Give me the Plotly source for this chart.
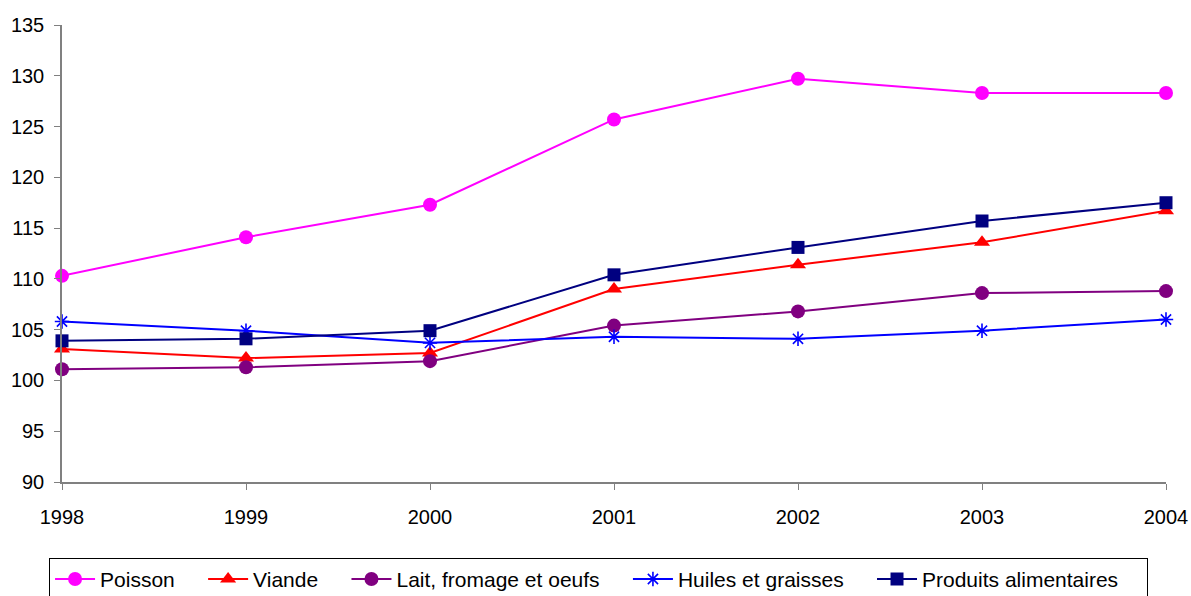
import plotly.graph_objects as go

years = [1998, 1999, 2000, 2001, 2002, 2003, 2004]

poisson = [110.3, 114.1, 117.3, 125.7, 129.7, 128.3, 128.3]
viande = [103.1, 102.2, 102.7, 109.0, 111.4, 113.6, 116.7]
lait = [101.1, 101.3, 101.9, 105.4, 106.8, 108.6, 108.8]
huiles = [105.8, 104.9, 103.7, 104.3, 104.1, 104.9, 106.0]
produits = [103.9, 104.1, 104.9, 110.4, 113.1, 115.7, 117.5]

series = [
    ("Poisson", poisson, "#FF00FF", "circle", 14),
    ("Viande", viande, "#FF0000", "triangle-up", 14),
    ("Lait, fromage et oeufs", lait, "#800080", "circle", 14),
    ("Huiles et graisses", huiles, "#0000FF", "asterisk-open", 12),
    ("Produits alimentaires", produits, "#000080", "square", 13),
]

# non-breaking spaces widen the gap between legend entries
pad = "\u00a0" * 4

fig = go.Figure()
for name, values, color, symbol, size in series:
    marker = dict(symbol=symbol, size=size, color=color)
    if symbol.endswith("-open"):
        marker["line"] = dict(color=color, width=1.6)
    fig.add_trace(
        go.Scatter(
            x=years,
            y=values,
            name=name + pad,
            mode="lines+markers",
            line=dict(color=color, width=2),
            marker=marker,
            cliponaxis=False,
        )
    )

fig.update_layout(
    width=1191,
    height=596,
    margin=dict(l=62, r=25, t=25, b=114, autoexpand=False),
    paper_bgcolor="white",
    plot_bgcolor="white",
    font=dict(family="Liberation Sans, Arial, sans-serif", size=20, color="black"),
    legend=dict(
        orientation="h",
        x=0.486,
        xanchor="center",
        y=-0.166,
        yanchor="top",
        bordercolor="black",
        borderwidth=1,
        font=dict(size=21),
        itemwidth=40,
        tracegroupgap=0,
    ),
)
fig.update_xaxes(
    range=[1998, 2004],
    tickvals=years,
    showgrid=False,
    zeroline=False,
    showline=True,
    linecolor="#808080",
    linewidth=1.5,
    ticks="outside",
    ticklen=6,
    tickcolor="#808080",
    tickfont=dict(size=20),
    ticklabelstandoff=10,
    automargin=False,
)
fig.update_yaxes(
    range=[90, 135],
    dtick=5,
    showgrid=False,
    zeroline=False,
    showline=True,
    linecolor="#808080",
    linewidth=1.5,
    ticks="outside",
    ticklen=6,
    tickcolor="#808080",
    tickfont=dict(size=20),
    ticklabelstandoff=6,
    automargin=False,
)

fig.write_html(
    "out.html",
    config={"displayModeBar": False},
    post_script="document.body.style.margin='0';document.body.style.overflow='hidden';",
)
